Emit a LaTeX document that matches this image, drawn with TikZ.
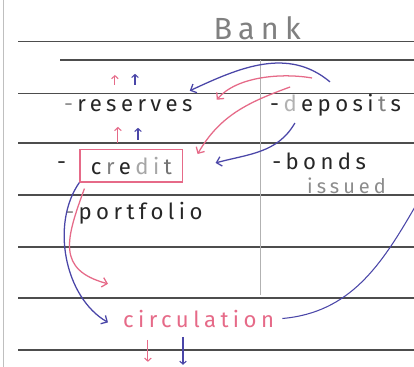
\documentclass[tikz,border=0pt]{standalone}
\usepackage{fontspec}
\usepackage{tikz}
\usetikzlibrary{arrows.meta}
\newfontfamily\hand[LetterSpace=20]{Fira Sans}
\newcommand{\lsp}{\kern0.2em}
\definecolor{pinkcol}{HTML}{E66A88}
\definecolor{bluecol}{HTML}{4A46A8}
\definecolor{rulecol}{HTML}{4D4D4D}
\tikzset{
  word/.style={font=\hand\fontsize{21}{24}\selectfont, text=black!85,
    anchor=base west, inner sep=0pt}}

\begin{document}
\begin{tikzpicture}[
      pk/.style={-{Straight Barb[length=1.6mm, width=3.2mm]}, line width=1.2pt, pinkcol},
      bl/.style={-{Straight Barb[length=1.6mm, width=3.2mm]}, line width=1.2pt, bluecol},
      pkup/.style={-{Straight Barb[length=1mm, width=2.2mm]}, line width=1pt, pinkcol},
      blup/.style={-{Straight Barb[length=1mm, width=2.2mm]}, line width=1pt, bluecol},
      rule/.style={line width=1.4pt, rulecol}]
  \useasboundingbox[fill=white] (0,0) rectangle (13.8,12.23);
  % page edge and ruling
  \draw[black!25, line width=0.8pt] (0.1,0) -- (0.1,12.23);
  \foreach \y in {10.84,9.12,7.46,5.73,3.99,2.29,0.57}
    \draw[rule] (0.6,\y) -- (13.8,\y);
  \draw[rule] (2.0,10.23) -- (13.8,10.23);
  \draw[black!30, line width=0.6pt] (8.67,10.23) -- (8.67,2.4);
  % balance sheet entries
  \node[word, anchor=base, text=black!50, font=\hand\fontsize{29}{32}\selectfont] (bank) at (8.57,10.9) {Bank};
  \node[word] (reserves) at (2.13,8.5) {\textcolor{black!45}{-}\lsp reserves};
  \node[word] (deposits) at (9.0,8.5) {-\lsp\textcolor{black!30}{d}\lsp eposi\lsp\textcolor{black!50}{t}\lsp s};
  \node[word] (cdash) at (1.9,6.57) {-};
  \node[word, anchor=center, draw=pinkcol, line width=1.2pt, minimum width=3.43cm,
    minimum height=1.07cm] (credit) at (4.38,6.7)
    {c\lsp\textcolor{black!50}{r}\lsp e\lsp\textcolor{black!35}{di}\lsp\textcolor{black!55}{t}};
  \node[word] (bonds) at (9.07,6.57) {-\lsp bonds};
  \node[word, text=black!45, font=\hand\fontsize{19}{22}\selectfont] (issued) at (10.23,5.77) {issued};
  \node[word] (portfolio) at (2.17,4.9) {\textcolor{black!45}{-}\lsp portfolio};
  \node[word, anchor=base, text=pinkcol, font=\hand\fontsize{21}{24}\selectfont] (circ) at (6.62,1.33) {circulation};
  % flows
  \coordinate (bltop) at (11.0,9.5);
  \draw[bl] (bltop) to[out=140, in=25] ([xshift=-0.1cm, yshift=0.3cm]reserves.north east);
  \coordinate (pktop) at (10.4,9.63);
  \draw[pk] (pktop) to[out=170, in=50, looseness=0.8] ([xshift=0.8cm]reserves.north east);
  \coordinate (pkdep) at (9.67,9.33);
  \draw[pk] (pkdep) to[out=200, in=60] ([xshift=0.47cm, yshift=-0.16cm]credit.north east);
  \coordinate (bldep) at (9.83,8.13);
  \draw[bl] (bldep) to[out=240, in=15] ([xshift=1.07cm, yshift=0.1cm]credit.east);
  \draw[bl] (credit.south west) to[out=235, in=150, looseness=0.9] ([xshift=-0.5cm, yshift=-0.13cm]circ.west);
  \coordinate (pkout) at (3.6,2.77);
  \draw[pk] ([xshift=0.17cm, yshift=-0.2cm]credit.south west) to[out=250, in=165, looseness=1.4] (pkout);
  \coordinate (bledge) at (13.83,5.33);
  \draw[bluecol, line width=1pt] ([xshift=0.27cm]circ.east) to[out=5, in=240] (bledge);
  % ups and downs
  \coordinate (resup) at (3.83,9.4);
  \draw[pkup] (resup) -- ++(0,0.33);
  \coordinate (resupb) at (4.5,9.4);
  \draw[blup] (resupb) -- ++(0,0.37);
  \coordinate (credup) at (3.93,7.47);
  \draw[pkup] (credup) -- ++(0,0.53);
  \coordinate (credupb) at (4.6,7.57);
  \draw[blup] (credupb) -- ++(0,0.4);
  \coordinate (circdn) at (4.93,0.9);
  \draw[pkup] (circdn) -- ++(0,-0.73);
  \coordinate (circdnb) at (6.1,1.0);
  \draw[blup] (circdnb) -- ++(0,-0.93);
\end{tikzpicture}
\end{document}
